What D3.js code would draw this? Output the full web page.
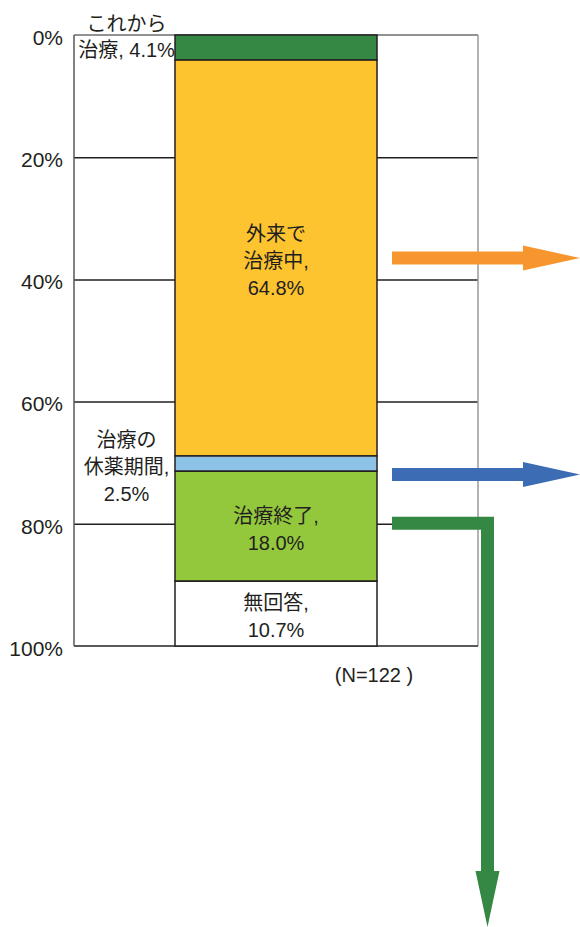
<!DOCTYPE html>
<html>
<head>
<meta charset="utf-8">
<script src="https://cdn.jsdelivr.net/npm/d3@7"></script>
<style>
  body { margin: 0; background: #fff; }
  text { font-family: "Liberation Sans", Arial, "Noto Sans CJK JP", sans-serif; fill: #231f20; }
</style>
</head>
<body>
<svg id="chart" width="580" height="927"></svg>
<script>
// data
var categories = ["これから治療", "外来で治療中", "治療の休薬期間", "治療終了", "無回答"];
var values = [4.1, 64.8, 2.5, 18.0, 10.7];
var colors = ["#358843", "#fdc42f", "#8dc3e6", "#93c83d", "#ffffff"];
var labels = [["これから", "治療, 4.1%"], ["外来で", "治療中,", "64.8%"], ["治療の", "休薬期間,", "2.5%"], ["治療終了,", "18.0%"], ["無回答,", "10.7%"]];
var ticks = [0, 20, 40, 60, 80, 100];
var nLabel = "(N=122 )";

var svg = d3.select("#chart");
var pLeft = 74, pRight = 478, pTop = 35, pBottom = 646;

var y = d3.scaleLinear().domain([0, 100]).range([pTop, pBottom]).clamp(true);
var x = d3.scaleBand().domain(["all"]).range([pLeft, pRight]).paddingInner(0.5).paddingOuter(0.25);

// cumulative segments
var acc = 0;
var segs = values.map(function(v, i) {
  var s = {i: i, y0: acc, y1: acc + v};
  acc += v;
  return s;
});

// gridlines
svg.append("g")
    .attr("transform", "translate(" + pLeft + ",0)")
    .call(d3.axisLeft(y).tickValues(ticks.slice(1, 5)).tickSize(-(pRight - pLeft)).tickFormat(""))
    .call(function(g) { g.select(".domain").remove(); })
    .selectAll("line").attr("stroke", "#231f20").attr("stroke-width", 1.5);

// frame
svg.append("line").attr("x1", pLeft).attr("x2", pRight).attr("y1", y(0)).attr("y2", y(0))
    .attr("stroke", "#6d6e70").attr("stroke-width", 1.5);
svg.append("line").attr("x1", pRight).attr("x2", pRight).attr("y1", y(0)).attr("y2", y(100))
    .attr("stroke", "#9a9a9a").attr("stroke-width", 1.5);
svg.append("line").attr("x1", pLeft).attr("x2", pLeft).attr("y1", y(0)).attr("y2", y(100))
    .attr("stroke", "#58595b").attr("stroke-width", 1.5);
svg.append("line").attr("x1", pLeft).attr("x2", pRight).attr("y1", y(100)).attr("y2", y(100))
    .attr("stroke", "#58595b").attr("stroke-width", 2);

// y labels
svg.append("g")
    .attr("transform", "translate(" + (pLeft - 11) + ",2)")
    .call(d3.axisLeft(y).tickValues(ticks).tickSize(0).tickFormat(function(d) { return d + "%"; }))
    .call(function(g) { g.select(".domain").remove(); })
    .selectAll("text")
    .attr("x", 0)
    .attr("dy", "0.35em")
    .style("font-size", "21px")
    .style("font-family", "'Liberation Sans', Arial, sans-serif")
    .style("fill", "#231f20");

// bar segments
svg.selectAll(".seg")
    .data(segs)
    .enter().append("rect")
    .attr("class", "seg")
    .attr("x", x("all"))
    .attr("width", x.bandwidth())
    .attr("y", function(d) { return y(d.y0); })
    .attr("height", function(d) { return y(d.y1) - y(d.y0); })
    .attr("fill", function(d) { return colors[d.i]; })
    .attr("stroke", "#231f20")
    .attr("stroke-width", 1.5);

// labels
var mid = x("all") + x.bandwidth() / 2;
var outMid = (pLeft + x("all")) / 2;
var lh = 27;
segs.forEach(function(s) {
  var lines = labels[s.i];
  var small = values[s.i] < 5;
  var cx = small ? outMid + 2 : mid;
  var cy = (y(s.y0) + y(s.y1)) / 2;
  var t = svg.append("text")
      .attr("text-anchor", "middle")
      .style("font-size", "20px");
  lines.forEach(function(l, j) {
    var by = s.i === 0 ? y(0) - 4 + j * 26 : cy + 10 + (j - (lines.length - 1) / 2) * lh;
    t.append("tspan").attr("x", cx).attr("y", by).text(l);
  });
});

svg.append("text")
    .attr("x", 374).attr("y", 682)
    .attr("text-anchor", "middle")
    .style("font-size", "20px")
    .text(nLabel);

// arrows
function hArrow(yc, x0, x1, col) {
  var sh = 6.5, hh = 12.5, hl = 57;
  svg.append("path")
      .attr("d", "M" + x0 + "," + (yc - sh) + "H" + (x1 - hl) + "V" + (yc - hh) + "L" + x1 + "," + yc +
            "L" + (x1 - hl) + "," + (yc + hh) + "V" + (yc + sh) + "H" + x0 + "Z")
      .attr("fill", col);
}
var yMid = function(i) { return (y(segs[i].y0) + y(segs[i].y1)) / 2; };
hArrow(yMid(1), 392, 580, "#f7962f");
hArrow(yMid(2) + 11, 392, 580, "#3c6cb4");

// bent arrow for treatment finished
var gy = yMid(3) - 3, gx = 487.5, sh = 6.5;
svg.append("path")
    .attr("d", "M392," + (gy - sh) + "H" + (gx + sh) + "V871H" + (gx + 12) + "L" + gx + ",927L" + (gx - 12) +
          ",871H" + (gx - sh) + "V" + (gy + sh) + "H392Z")
    .attr("fill", "#358843");
</script>
</body>
</html>
